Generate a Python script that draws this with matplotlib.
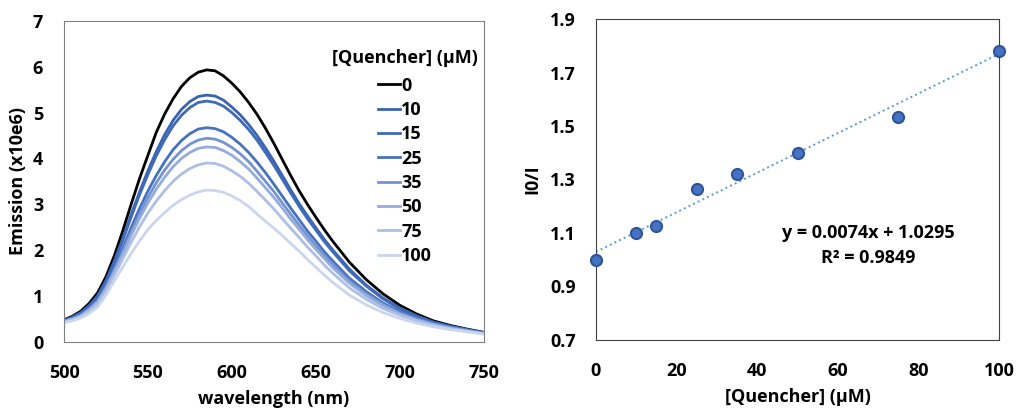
import matplotlib
matplotlib.use("Agg")
import matplotlib.pyplot as plt

plt.rcParams['font.family'] = ['Open Sans', 'DejaVu Sans']
plt.rcParams['font.weight'] = 'bold'

wl = [500, 505, 510, 515, 520, 525, 530, 535, 540, 545, 550, 555, 560, 565, 570, 575, 580, 585,
      590, 595, 600, 605, 610, 615, 620, 625, 630, 635, 640, 645, 650, 655, 660,
      670, 680, 690, 700, 710, 720, 730, 740, 750]

# emission (x10e6) for each quencher concentration
em_0 = [0.48, 0.56, 0.67, 0.84, 1.07, 1.42, 1.88, 2.42, 3.00, 3.56, 4.07, 4.57, 4.97, 5.30, 5.57, 5.76, 5.88, 5.93,
        5.91, 5.80, 5.64, 5.45, 5.22, 4.96, 4.66, 4.33, 3.98, 3.63, 3.30, 3.00, 2.72, 2.45, 2.20,
        1.74, 1.36, 1.05, 0.80, 0.61, 0.46, 0.36, 0.28, 0.21]
em_10 = [0.47, 0.54, 0.64, 0.79, 1.00, 1.34, 1.76, 2.25, 2.78, 3.27, 3.73, 4.15, 4.52, 4.83, 5.07, 5.24, 5.35, 5.38,
         5.36, 5.27, 5.12, 4.95, 4.74, 4.50, 4.23, 3.94, 3.63, 3.32, 3.02, 2.75, 2.49, 2.24, 2.01,
         1.59, 1.24, 0.96, 0.74, 0.57, 0.43, 0.34, 0.27, 0.20]
em_15 = [0.46, 0.53, 0.63, 0.78, 0.99, 1.32, 1.74, 2.21, 2.72, 3.21, 3.65, 4.06, 4.41, 4.71, 4.94, 5.11, 5.22, 5.25,
         5.22, 5.14, 5.00, 4.83, 4.63, 4.40, 4.13, 3.85, 3.55, 3.25, 2.96, 2.69, 2.44, 2.19, 1.97,
         1.55, 1.22, 0.94, 0.72, 0.56, 0.43, 0.34, 0.26, 0.20]
em_25 = [0.45, 0.51, 0.60, 0.73, 0.92, 1.23, 1.62, 2.04, 2.49, 2.91, 3.29, 3.63, 3.93, 4.19, 4.39, 4.54, 4.64, 4.67,
         4.65, 4.58, 4.46, 4.31, 4.13, 3.92, 3.69, 3.44, 3.18, 2.92, 2.67, 2.42, 2.20, 1.97, 1.77,
         1.39, 1.10, 0.85, 0.66, 0.51, 0.40, 0.32, 0.25, 0.19]
em_35 = [0.45, 0.50, 0.58, 0.71, 0.89, 1.19, 1.57, 1.97, 2.39, 2.78, 3.15, 3.47, 3.75, 3.98, 4.17, 4.31, 4.40, 4.44,
         4.42, 4.35, 4.24, 4.10, 3.93, 3.72, 3.50, 3.28, 3.03, 2.79, 2.55, 2.32, 2.10, 1.89, 1.69,
         1.33, 1.05, 0.82, 0.63, 0.50, 0.39, 0.31, 0.25, 0.19]
em_50 = [0.44, 0.50, 0.57, 0.70, 0.87, 1.16, 1.53, 1.91, 2.32, 2.69, 3.03, 3.33, 3.59, 3.82, 4.00, 4.13, 4.22, 4.25,
         4.24, 4.17, 4.07, 3.93, 3.77, 3.57, 3.36, 3.15, 2.92, 2.68, 2.46, 2.23, 2.02, 1.82, 1.62,
         1.28, 1.01, 0.79, 0.61, 0.48, 0.38, 0.30, 0.24, 0.18]
em_75 = [0.43, 0.48, 0.55, 0.67, 0.83, 1.11, 1.45, 1.81, 2.17, 2.51, 2.81, 3.07, 3.30, 3.50, 3.66, 3.78, 3.86, 3.90,
         3.89, 3.83, 3.73, 3.61, 3.46, 3.28, 3.09, 2.90, 2.69, 2.48, 2.28, 2.07, 1.88, 1.68, 1.50,
         1.18, 0.93, 0.73, 0.58, 0.46, 0.36, 0.29, 0.23, 0.18]
em_100 = [0.42, 0.46, 0.52, 0.62, 0.76, 1.02, 1.33, 1.63, 1.93, 2.20, 2.45, 2.65, 2.82, 2.98, 3.10, 3.20, 3.27, 3.31,
          3.30, 3.26, 3.18, 3.08, 2.95, 2.79, 2.63, 2.48, 2.32, 2.15, 1.98, 1.80, 1.63, 1.46, 1.30,
          1.02, 0.81, 0.64, 0.51, 0.41, 0.33, 0.27, 0.22, 0.17]

labels = ['0', '10', '15', '25', '35', '50', '75', '100']
colors = ['#000000', '#3a64b0', '#3f6ab8', '#4672c0', '#7393d3', '#93acdc', '#aebfe4', '#cbd6ee']

# Stern-Volmer data
quencher = [0, 10, 15, 25, 35, 50, 75, 100]
i0_over_i = [1.00, 1.10, 1.125, 1.265, 1.32, 1.40, 1.535, 1.78]
slope = 0.0074
intercept = 1.0295
r2 = 0.9849

fig = plt.figure(figsize=(10.16, 4.08), dpi=100)

# ---- left: emission spectra ----
ax1 = fig.add_axes([0.063, 0.162, 0.413, 0.787])
spectra = [em_0, em_10, em_15, em_25, em_35, em_50, em_75, em_100]
for y, lab, c in zip(spectra, labels, colors):
    ax1.plot(wl, y, color=c, lw=2.0, label=lab)
ax1.set_xlim(500, 750)
ax1.set_ylim(0, 7)
ax1.set_xticks([500, 550, 600, 650, 700, 750])
ax1.set_yticks(range(0, 8))
ax1.tick_params(length=0, labelsize=13)
ax1.tick_params(axis='y', pad=15)
ax1.tick_params(axis='x', pad=16)
for s in ax1.spines.values():
    s.set_color('#808080')
ax1.set_xlabel('wavelength (nm)', fontsize=13, fontweight='bold')
ax1.set_ylabel('Emission (x10e6)', fontsize=13, fontweight='bold')
ax1.xaxis.set_label_coords(0.5, -0.15)
ax1.yaxis.set_label_coords(-0.088, 0.5)
# legend title drawn on its own so the gap under it matches
ax1.text(0.986, 0.885, '[Quencher] (µM)', transform=ax1.transAxes, ha='right', va='center',
         fontsize=13, fontweight='bold')
ax1.legend(loc='upper left', bbox_to_anchor=(0.748, 0.826), frameon=False, fontsize=13,
           handlelength=1.2, handletextpad=0.1, labelspacing=0.35, borderpad=0, borderaxespad=0)

# ---- right: Stern-Volmer plot ----
ax2 = fig.add_axes([0.5866, 0.1667, 0.3967, 0.7867])
xfit = [0, 100]
yfit = [intercept + slope * xv for xv in xfit]
ax2.plot(xfit, yfit, ls=':', color='#5b9bd5', lw=1.4)
ax2.plot(quencher, i0_over_i, 'o', ms=8, mfc='#4472c4', mec='#2f5597', mew=1.5, clip_on=False, zorder=3)
ax2.set_xlim(0, 100)
ax2.set_ylim(0.7, 1.9)
ax2.set_xticks(range(0, 101, 20))
ax2.set_yticks([0.7, 0.9, 1.1, 1.3, 1.5, 1.7, 1.9])
ax2.set_yticklabels(['0.7', '0.9', '1.1', '1.3', '1.5', '1.7', '1.9'])
ax2.tick_params(length=0, labelsize=13)
ax2.tick_params(axis='y', pad=14.5)
ax2.tick_params(axis='x', pad=16)
for s in ax2.spines.values():
    s.set_color('#404040')
ax2.set_xlabel('[Quencher] (µM)', fontsize=13, fontweight='bold')
ax2.set_ylabel('I0/I', fontsize=13, fontweight='bold')
ax2.xaxis.set_label_coords(0.5, -0.15)
ax2.yaxis.set_label_coords(-0.136, 0.5)
ax2.text(67.5, 1.053, 'y = %.4fx + %.4f\nR² = %.4f' % (slope, intercept, r2), ha='center', va='center',
         fontsize=13, fontweight='bold', linespacing=1.5)

fig.savefig('out.png', dpi=100)
